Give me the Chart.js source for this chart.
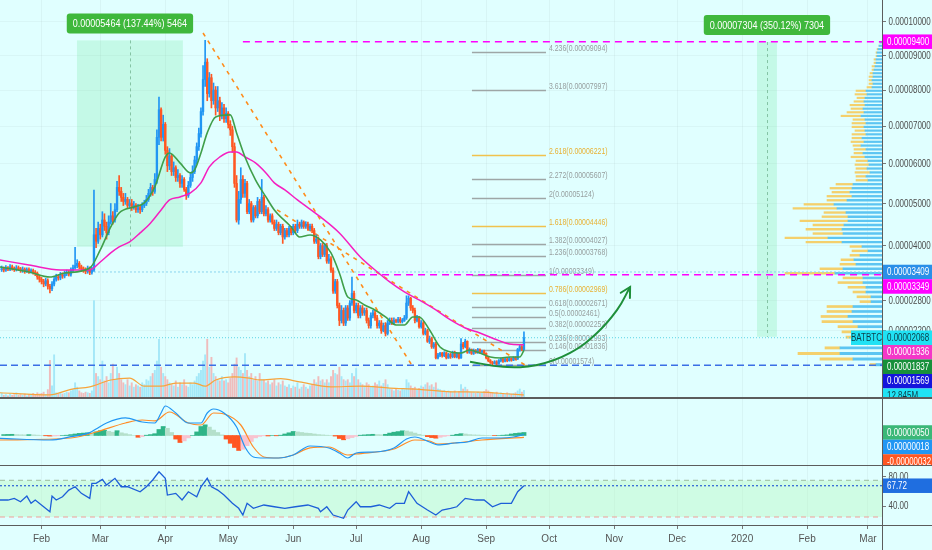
<!DOCTYPE html>
<html><head><meta charset="utf-8">
<script src="https://cdn.jsdelivr.net/npm/chart.js@4.4.1/dist/chart.umd.min.js"></script>
<style>
html,body{margin:0;padding:0;background:#e0ffff;width:932px;height:550px;overflow:hidden;}
#wrap{position:relative;width:932px;height:550px;}
canvas{position:absolute;left:0;}
.sep{position:absolute;background:#5c5c5c;pointer-events:none;}
</style></head><body>
<div id="wrap">
<canvas id="cMain" width="932" height="398" style="top:0px"></canvas>
<canvas id="cMacd" width="932" height="67" style="top:398px"></canvas>
<canvas id="cRsi" width="932" height="85" style="top:465px"></canvas>
<div class="sep" style="left:0;top:397px;width:932px;height:1.5px"></div>
<div class="sep" style="left:0;top:464.5px;width:932px;height:1.5px"></div>
<div class="sep" style="left:0;top:524.5px;width:932px;height:1.2px"></div>
<div class="sep" style="left:881.5px;top:0;width:1.2px;height:550px"></div>
</div>
<script>
// ---------------- DATA (prices in satoshi, days counted from 2019-01-01 = 0) ----------------
const FIRST_DAY = 12;
const FIRST_OPEN = 3460;
const closes = [
3480,3450,3500,3470,3520,3490,3460,3500,3480,3450,
3470,3430,3460,3420,3440,3400,3380,3300,3250,3200,
3150,3220,3100,3050,3150,3250,3300,3280,3350,3320,
3380,3400,3360,3450,3500,3550,3600,3520,3480,3450,
3420,3480,3400,3450,4250,
4100,4400,4250,4600,4450,4300,4550,4700,4600,4850,
5400,5300,5150,5050,5100,4950,5000,4900,4950,4850,
4900,4850,4950,5000,5100,5250,5400,5300,5600,6700,
7450,6700,7050,6350,5950,6200,5800,5900,5650,5700,
5500,5600,5350,5200,5450,5650,5800,6100,6450,6800,
7400,8300,8800,7900,8350,7700,8000,7500,7700,7300,
7500,7200,7350,7050,6900,6450,5500,4600,5100,5600,
5250,5500,4800,5000,4600,4900,4700,5050,4800,5150,
4750,4850,4600,4700,4550,4400,4500,4300,4450,4200,
4350,4250,4400,4300,4450,4350,4500,4450,4550,4450,
4500,4400,4450,4350,4100,4150,3750,4000,3800,4000,
3650,3700,3450,3000,3200,2700,2400,2600,2350,2650,
2450,2750,2950,2600,2700,2500,2650,2550,2600,2400,
2300,2500,2550,2450,2300,2350,2200,2300,2150,2350,
2400,2350,2400,2380,2420,2380,2400,2450,2750,2850,
2650,2600,2400,2450,2280,2350,2150,2200,2000,2050,
1900,1950,1700,1750,1780,1740,1790,1700,1760,1720,
1800,1720,1780,1700,1950,1900,2000,1800,1850,1780,
1830,1800,1850,1800,1820,1780,1700,1650,1620,1600,
1630,1600,1650,1680,1640,1680,1650,1690,1660,1700,
1680,1850,1900,1850,2068];
const highs = [
3540,3520,3550,3530,3570,3560,3520,3550,3540,3510,
3520,3500,3500,3500,3480,3470,3440,3410,3340,3290,
3250,3270,3260,3140,3200,3300,3360,3340,3400,3390,
3430,3450,3440,3500,3560,3960,3680,3640,3560,3520,
3500,3540,3520,3510,5330,
4400,4550,4500,4800,4750,4550,4700,5000,4800,5000,
5550,5700,5400,5250,5250,5150,5100,5100,5050,5000,
4980,4960,5020,5080,5200,5350,5500,5450,5750,6900,
7800,7500,7300,7100,6450,6400,6250,6050,5950,5850,
5750,5700,5650,5400,5550,5750,5950,6200,6550,6950,
7500,8700,9440,8900,8500,8450,8200,8100,8100,7800,
7650,7600,7500,7400,7150,7000,6550,5700,5300,5900,
5700,5600,5550,5100,5050,4950,4950,5150,5100,5600,
5200,4950,4900,4750,4750,4600,4600,4550,4500,4500,
4400,4400,4450,4450,4500,4500,4600,4550,4600,4580,
4560,4550,4500,4500,4400,4250,4200,4050,4050,4050,
4050,3800,3750,3500,3250,3250,2750,2700,2650,2700,
2700,2800,3300,3000,2750,2750,2700,2700,2650,2650,
2450,2550,2600,2600,2500,2400,2400,2350,2350,2400,
2450,2450,2450,2430,2460,2460,2440,2500,2900,2900,
2870,2700,2650,2500,2480,2400,2380,2250,2230,2100,
2080,1980,1980,1780,1800,1800,1810,1800,1780,1780,
1820,1820,1800,1790,2050,1980,2040,2010,1880,1860,
1860,1850,1870,1860,1840,1840,1790,1720,1670,1640,
1650,1650,1670,1700,1700,1700,1700,1710,1700,1720,
1720,1870,1940,1920,2180];
const lows = [
3420,3410,3420,3440,3440,3450,3420,3430,3440,3400,
3400,3380,3400,3380,3390,3360,3330,3250,3190,3150,
3090,3110,3040,2960,3010,3110,3210,3230,3240,3270,
3280,3330,3320,3320,3410,3470,3500,3480,3420,3400,
3370,3380,3350,3360,3420,
3950,4050,4150,4200,4350,4150,4250,4500,4500,4550,
4800,5200,5050,4950,4980,4880,4900,4830,4860,4780,
4780,4760,4800,4900,4950,5050,5180,5200,5250,5500,
6500,6600,6600,6250,5800,5850,5700,5700,5550,5550,
5400,5400,5300,5100,5150,5400,5550,5750,6000,6350,
6700,7300,8100,7700,7800,7500,7600,7300,7400,7150,
7200,7100,7100,6950,6750,6300,5400,4550,4500,5000,
5150,5150,4750,4750,4550,4550,4650,4650,4750,4750,
4700,4700,4550,4550,4500,4350,4350,4250,4250,4050,
4150,4200,4200,4250,4250,4300,4300,4400,4400,4400,
4400,4350,4350,4300,4050,4050,3700,3700,3750,3750,
3600,3600,3400,2950,2950,2650,2300,2350,2300,2300,
2400,2400,2700,2550,2550,2450,2450,2500,2500,2350,
2250,2250,2450,2400,2250,2250,2150,2180,2100,2120,
2320,2320,2330,2350,2350,2350,2350,2380,2420,2700,
2600,2550,2350,2370,2250,2250,2120,2120,1980,1960,
1870,1870,1680,1680,1720,1710,1720,1680,1690,1690,
1700,1700,1700,1680,1690,1860,1880,1780,1780,1760,
1760,1780,1780,1780,1780,1760,1680,1630,1600,1570,
1590,1580,1590,1630,1620,1630,1630,1640,1640,1650,
1660,1670,1820,1830,1840];
// volume, millions
const volumes = [
8,5,6,4,7,5,6,9,5,6,
5,7,4,6,5,8,6,9,7,8,
10,6,14,61,20,70,9,7,9,7,
8,10,9,12,14,25,18,12,9,8,
10,9,8,12,157,
40,35,30,60,28,35,25,40,55,30,
50,40,30,25,22,30,20,25,18,22,
20,18,25,22,30,28,35,40,45,60,
95,50,40,35,30,25,22,20,28,18,
25,22,30,20,18,25,22,28,35,40,
45,60,70,95,50,66,40,35,30,28,
35,28,30,25,32,40,55,65,50,45,
40,72,45,35,40,30,35,28,40,30,
30,25,28,22,25,30,20,25,22,28,
20,18,22,16,20,18,25,15,18,22,
18,15,20,22,30,25,35,28,30,25,
30,25,35,45,40,38,50,35,30,28,
30,25,40,35,48,30,25,22,20,25,
22,18,20,25,22,28,20,24,30,22,
15,14,12,16,13,12,15,14,30,25,
20,16,18,14,16,20,18,22,25,20,
22,18,25,15,14,12,13,10,12,11,
10,12,9,11,22,15,18,14,10,9,
9,8,10,8,9,11,14,12,10,9,
8,10,7,9,8,7,9,8,7,8,
9,12,15,10,12.845];
const volMaDays = [11,35,45,54,64,73,80,88,95,104,109,114,123,130,135,145,154,169,183,197,211,226,240,254,261];
const volMaVals = [8.5,5,14,18,29,32,19,19,24,24,19,29,34,32,29,31,26,18,19,16,14,10,9.6,6.4,4.8];

const emaFastDays = [11,25,35,42,54,59,64,68,75,80,85,90,92,97,102,104,107,110,114,121,124,128,133,138,142,150,154,159,164,169,173,177,181,185,190,195,200,204,208,211,216,221,226,231,235,240,245,250,254,259,261];
const emaFastVals = [3520,3409,3300,3387,3497,3901,4435,4770,4916,5014,5411,6180,6285,6025,5767,5844,6285,6818,7253,7308,6818,6180,5589,5162,4843,4435,4200,4247,4131,3833,3387,2876,2814,2711,2610,2470,2312,2312,2470,2470,2215,1896,1805,1787,1841,1787,1715,1698,1715,1715,1837];
const emaSlowDays = [11,25,40,54,59,64,68,73,78,83,88,92,97,102,107,111,116,121,124,128,133,138,142,147,153,164,173,183,190,197,204,211,219,226,233,240,247,254,261];
const emaSlowVals = [3675,3564,3453,3453,3630,3833,3970,4085,4294,4530,4843,5088,5162,5262,5513,5921,6180,6312,6312,6180,6025,5767,5513,5337,5088,4673,4294,3743,3453,3193,2981,2814,2610,2410,2254,2158,2045,1952,1936];

// volume profile (rows by price)
const profilePrices = [9400,9300,9200,9100,9000,8900,8800,8700,8600,8500,8400,8300,8200,8100,8000,
7900,7800,7700,7600,7500,7400,7300,7200,7100,7000,6900,6800,6700,6600,6500,6400,6300,6200,6100,6000,
5900,5800,5700,5600,5500,5400,5300,5200,5100,5000,4900,4800,4700,4600,4500,4400,4300,4200,4100,4000,
3900,3800,3700,3600,3500,3400,3300,3200,3100,3000,2900,2800,2700,2600,2500,2400,2300,2200,2100,2000,
1900,1800,1700,1600];
const profileUp = [2,3,4,5,5,6,6,7,8,9,9,10,9,10,16,
15,17,18,17,19,18,21,17,16,18,17,16,20,18,21,16,19,17,14,13,
15,12,16,14,29,30,32,30,35,48,45,36,34,34,38,40,39,54,40,20,
14,22,28,26,39,47,19,19,16,16,11,11,29,30,34,29,24,22,16,12,
42,42,29,6];
const profileDown = [0,0,1,1,1,2,2,3,2,3,4,3,4,5,10,
12,8,10,15,12,17,20,12,14,12,10,14,10,13,8,12,9,14,12,14,
11,15,10,12,17,22,18,25,20,30,44,22,26,48,31,36,30,43,36,12,
16,10,13,16,23,50,20,25,18,13,14,11,26,25,27,31,20,18,20,14,
15,42,33,6];

// fibonacci extension
const fibRatios = ['4.236','3.618','2.618','2.272','2','1.618','1.382','1.236','1','0.786','0.618','0.5','0.382','0.236','0.146','0'];
const fibPrices = [9094,7997,6221,5607,5124,4446,4027,3768,3349,2969,2671,2461,2252,1993,1836,1574];
const fibFromDay = 236.2, fibToDay = 271.5;

// horizontal lines
const hLinePrices = [9400, 3349, 3409, 2068, 1569];
const hLineFromDays = [127.0, 181.9, 54.1, 11.2, 11.2];

// trend lines
const trendFromDays = [108, 143.3], trendFromPrices = [9660, 4843];
const trendToDays = [208.1, 263], trendToPrices = [1540, 1540];

// projected curve
const curveDays = [235.3, 251, 267.2, 283, 295.8, 305.4, 311.6];
const curvePrices = [1632, 1545, 1574, 1787, 2158, 2610, 3086];

// date/price range measurements
const rangeFromDays = [47.9, 372.1], rangeToDays = [98.4, 381.6];
const rangeLowPrices = [3975, 2086], rangeHighPrices = [9439, 9390];
const rangeLabels = ['0.00005464 (137.44%) 5464', '0.00007304 (350.12%) 7304'];

// axis label values
const priceTicks = [10000, 9000, 8000, 7000, 6000, 5000, 4000, 2800, 2200];
const markPrices = [9400, 3409, 3349, 2068, 1936, 1837, 1569];
const lastVolume = 12.845;

// MACD (sats)
const macdDays = [11,35,45,54,57,62,71,79,85,88,90,95,101,107,110,113,118,124,128,132,137,144,151,159,168,173,177,181,190,199,205,209,216,220,228,234,241,250,256,261];
const macdVals = [-47,-75,-20,47,108,208,292,225,208,375,492,375,208,208,375,442,375,142,-192,-358,-375,-375,-325,-175,-208,-292,-375,-292,-275,-208,-58,-25,-108,-158,-125,-108,-42,-42,-25,18];
const sigDays = [11,45,57,71,79,85,92,101,107,113,118,126,132,137,144,151,159,168,177,181,199,209,216,220,228,241,261];
const sigVals = [-75,-42,58,208,258,242,392,208,175,375,358,175,-192,-358,-375,-325,-208,-192,-325,-308,-225,-75,-92,-142,-125,-75,-32];
const HIST_START = 13, HIST_STEP = 2;
const histVals = [
15,18,20,15,12,10,14,10,6,0,
-5,-10,-8,-5,0,5,15,25,35,40,
45,40,60,80,85,70,55,80,45,30,
15,0,-30,-20,5,15,30,100,150,120,
50,-60,-117,-90,-40,0,60,150,178,140,
90,50,10,-60,-130,-200,-250,-230,-170,-100,
-40,-15,-5,-8,0,-5,5,25,45,67,
60,50,40,35,25,15,10,5,0,-10,
-50,-72,-55,-35,-15,5,10,15,20,15,
12,20,40,55,65,78,75,60,40,20,
5,-20,-35,-45,-30,-15,-5,5,20,30,
25,15,10,8,5,2,0,-2,0,5,
10,25,35,42,50];

// RSI
const rsiDays = [11,15,18,21,24,26,28,32,35,36,38,41,44,47,50,54,55,57,60,62,66,69,72,78,81,84,87,90,91,95,98,101,105,107,110,112,115,118,122,125,127,129,132,137,142,147,152,158,163,164,167,170,175,177,181,183,188,192,197,200,204,206,210,215,219,222,226,229,233,238,242,246,250,255,258,261];
const rsiVals = [48.2,48.2,50.5,45.9,53.6,43.7,48.2,39,32.2,53.6,48.2,52.7,61.8,66.3,57.3,50.5,71,71,76.4,68.6,77.8,66.3,66.3,59.5,66.3,75.5,86.8,77.8,55,57.3,48.2,59.5,52.7,66.3,77.8,66.3,61.8,55,43.7,36.9,27.7,43.7,36.9,41.4,39,36.9,39,41.4,36.9,32.2,39,27.7,23.2,34.5,45.9,39,39,41.4,36.9,43.7,43.7,59.5,43.7,34.5,27.7,34.5,36.9,39,50.5,48.2,48.2,39,43.7,43.7,59.5,67.72];
const RSI_UPPER = 75, RSI_LOWER = 25;
const rsiTicks = [80, 40];

// time axis
const monthDays = [31,59,90,120,151,181,212,243,273,304,334,365,396,425];
const monthLabels = ['Feb','Mar','Apr','May','Jun','Jul','Aug','Sep','Oct','Nov','Dec','2020','Feb','Mar'];

// ---------------- CHART SETUP ----------------
const F = "'Liberation Sans', Arial, sans-serif";
Chart.defaults.font.family = F;
Chart.defaults.font.size = 10;
Chart.defaults.color = '#4d4d4d';
Chart.defaults.animation = false;

const POW = 0.7;
class PowScale extends Chart.LinearScale {
  static id = 'pow';
  static defaults = {};
  _p(v) { return Math.pow(Math.max(v, 1e-12), POW); }
  getPixelForValue(value) {
    if (value === null || value === undefined || isNaN(value)) return NaN;
    const a = this._p(this.min), b = this._p(this.max);
    return this.getPixelForDecimal((this._p(value) - a) / (b - a));
  }
  getValueForPixel(pixel) {
    const a = this._p(this.min), b = this._p(this.max);
    return Math.pow(a + this.getDecimalForPixel(pixel) * (b - a), 1 / POW);
  }
}
Chart.register(PowScale);

const X_MIN = 11.2, X_MAX = 431.7;
const Y_MIN = 1035, Y_MAX = 10660;
const opens = closes.map((c, i) => i === 0 ? FIRST_OPEN : closes[i - 1]);
const isUp = i => closes[i] >= opens[i];
const UP = '#2196f3', DN = '#ff5722';

function noPad(s) { s.paddingTop = 0; s.paddingBottom = 0; s.paddingLeft = 0; s.paddingRight = 0; }
function xAxis(show) {
  return {
    type: 'linear', min: X_MIN, max: X_MAX, offset: false, bounds: 'data', display: true,
    afterBuildTicks: s => { s.ticks = monthDays.map(v => ({ value: v })); },
    afterFit: s => { s.height = show ? 25 : 0; noPad(s); },
    grid: { color: 'rgba(0,0,0,0.04)', offset: false, drawTicks: show, tickLength: 4, tickColor: '#777' },
    border: { display: false },
    ticks: { display: show, autoSkip: false, maxRotation: 0, padding: 4, color: '#555', font: { size: 10 },
      callback: (v, i) => monthLabels[i] }
  };
}
function yAxisRight(extra) {
  return Object.assign({ position: 'right', offset: false, bounds: 'data', beginAtZero: false,
    afterFit: s => { s.width = 50; noPad(s); },
    ticks: { display: false },
    grid: { color: 'rgba(0,0,0,0.035)', offset: false, tickLength: 4, tickColor: '#777' },
    border: { display: false } }, extra);
}
const fmt8 = v => (v / 1e8).toFixed(8);

function narrowText(ctx, text, x, y, sx, align) {
  ctx.save(); ctx.translate(x, y); ctx.scale(sx, 1); ctx.textAlign = align || 'left';
  ctx.fillText(text, 0, 0); ctx.restore();
}
function drawTickLabels(chart, scale, fmt) {
  const ctx = chart.ctx, a = chart.chartArea;
  ctx.save(); ctx.font = '10px ' + F; ctx.fillStyle = '#4d4d4d'; ctx.textBaseline = 'middle';
  scale.ticks.forEach(t => narrowText(ctx, fmt(t.value), a.right + 6.5, scale.getPixelForValue(t.value) + 0.5, 0.8));
  ctx.restore();
}
function drawTags(chart, items) {
  const ctx = chart.ctx, a = chart.chartArea, H = 14.5;
  items.forEach(it => it.py = it.scale.getPixelForValue(it.v));
  items.sort((p, q) => p.py - q.py);
  let last = -1e9;
  ctx.save();
  ctx.font = '10px ' + F; ctx.textBaseline = 'middle';
  for (const it of items) {
    const y = Math.max(it.py, last + H); last = y;
    ctx.fillStyle = it.bg; ctx.fillRect(a.right + 0.5, y - H / 2, 49.5, H);
    ctx.fillStyle = it.fg || '#fff';
    const sx = Math.min(0.8, 44 / ctx.measureText(it.text).width);
    narrowText(ctx, it.text, a.right + 5, y + 0.5, sx);
    if (it.tag) {
      ctx.fillStyle = it.bg; ctx.fillRect(a.right - 31, y - H / 2, 31, H);
      ctx.fillStyle = it.fg;
      narrowText(ctx, it.tag, a.right - 15.5, y + 0.5, 0.8, 'center');
    }
  }
  ctx.restore();
}

const fibPlugin = { id: 'fib', beforeDatasetsDraw(chart) {
  const { ctx, chartArea: a } = chart; const x = chart.scales.x, y = chart.scales.y;
  ctx.save(); ctx.beginPath(); ctx.rect(a.left, a.top, a.right - a.left, a.bottom - a.top); ctx.clip();
  // range boxes
  rangeFromDays.forEach((d0, i) => {
    const xa = x.getPixelForValue(d0), xb = x.getPixelForValue(rangeToDays[i]);
    const ya = y.getPixelForValue(rangeHighPrices[i]), yb = y.getPixelForValue(rangeLowPrices[i]);
    ctx.fillStyle = 'rgba(60,220,110,0.17)'; ctx.fillRect(xa, ya, xb - xa, yb - ya);
    const xm = (xa + xb) / 2;
    ctx.setLineDash([3, 3]); ctx.strokeStyle = 'rgba(90,160,120,0.6)'; ctx.lineWidth = 1;
    ctx.beginPath(); ctx.moveTo(Math.round(xm) + 0.5, ya); ctx.lineTo(Math.round(xm) + 0.5, yb); ctx.stroke();
    ctx.setLineDash([]);
    ctx.font = '11px ' + F;
    const tw = ctx.measureText(rangeLabels[i]).width * 0.82, w = tw + 12, h = 20, cy = ya - 17;
    ctx.fillStyle = '#3fb83c';
    ctx.beginPath(); ctx.roundRect(xm - w / 2, cy - h / 2, w, h, 3); ctx.fill();
    ctx.fillStyle = '#ffffff'; ctx.textBaseline = 'middle';
    narrowText(ctx, rangeLabels[i], xm, cy + 0.5, 0.82, 'center');
  });
  // fib levels
  const x0 = x.getPixelForValue(fibFromDay), x1 = x.getPixelForValue(fibToDay);
  ctx.font = '9px ' + F; ctx.textBaseline = 'middle';
  fibRatios.forEach((r, i) => {
    const py = Math.round(y.getPixelForValue(fibPrices[i])) + 0.5;
    const gold = (r === '2.618' || r === '1.618' || r === '0.786');
    ctx.strokeStyle = gold ? '#f0c24e' : '#9ea6a6'; ctx.lineWidth = 1.5;
    ctx.beginPath(); ctx.moveTo(x0, py); ctx.lineTo(x1, py); ctx.stroke();
    ctx.fillStyle = gold ? '#e8b235' : '#979f9f';
    narrowText(ctx, r + '(' + fmt8(fibPrices[i]) + ')', x1 + 3, py - 4, 0.77);
  });
  ctx.restore();
}};

const arrowPlugin = { id: 'arrowHead', afterDatasetsDraw(chart) {
  const idx = chart.data.datasets.findIndex(d => d.arrow);
  if (idx < 0) return;
  const pts = chart.getDatasetMeta(idx).data; const p1 = pts[pts.length - 1];
  let dx, dy;
  if (p1.cp1x !== undefined && (p1.cp1x !== p1.x || p1.cp1y !== p1.y)) { dx = p1.x - p1.cp1x; dy = p1.y - p1.cp1y; }
  else { const p0 = pts[pts.length - 2]; dx = p1.x - p0.x; dy = p1.y - p0.y; }
  const ang = Math.atan2(dy, dx), L = 11, ctx = chart.ctx;
  ctx.save(); ctx.strokeStyle = '#1e8f3a'; ctx.lineWidth = 2; ctx.lineCap = 'round';
  ctx.beginPath();
  ctx.moveTo(p1.x - L * Math.cos(ang - 0.5), p1.y - L * Math.sin(ang - 0.5)); ctx.lineTo(p1.x, p1.y);
  ctx.lineTo(p1.x - L * Math.cos(ang + 0.5), p1.y - L * Math.sin(ang + 0.5));
  ctx.stroke(); ctx.restore();
}};

const mainTags = { id: 'mainTags', afterDraw(chart) {
  const y = chart.scales.y, yv = chart.scales.yv;
  drawTickLabels(chart, y, fmt8);
  const styles = [
    { bg: '#ff00ff' }, { bg: '#2a8fe8' }, { bg: '#ff00ff' },
    { bg: '#20e2f4', fg: '#0c3b47', tag: 'BATBTC' }, { bg: '#f436c8' }, { bg: '#17903a' }, { bg: '#1515dc' }];
  const items = markPrices.map((v, i) => Object.assign({ v, scale: y, text: fmt8(v) }, styles[i]));
  items.push({ v: lastVolume, scale: yv, text: lastVolume.toFixed(3) + 'M', bg: '#20e2f4', fg: '#0c3b47' });
  drawTags(chart, items);
}};

const hlineStyles = [
  { c: '#ff00ff', d: [7, 5], w: 1.5 }, { c: '#ff00ff', d: [7, 5], w: 1.5 },
  { c: '#86d3ee', d: [2, 2], w: 1 }, { c: '#5dd4e6', d: [1, 2], w: 1 }, { c: '#3b6fe6', d: [7, 4], w: 1.6 }];

const mainDatasets = [
  { type: 'bar', data: volumes.map((v, i) => ({ x: FIRST_DAY + i, y: v })), xAxisID: 'x', yAxisID: 'yv',
    backgroundColor: c => isUp(c.dataIndex) ? '#a4e8f8' : '#efbcbc', barPercentage: 0.92, categoryPercentage: 1, grouped: false, order: 20 },
  { type: 'line', data: volMaDays.map((d, i) => ({ x: d, y: volMaVals[i] })), xAxisID: 'x', yAxisID: 'yv',
    borderColor: '#f6a53c', borderWidth: 1.2, pointRadius: 0, cubicInterpolationMode: 'monotone', order: 19 },
  { type: 'bar', indexAxis: 'y', data: profilePrices.map((p, i) => ({ x: profileUp[i], y: p })), xAxisID: 'xp', yAxisID: 'y',
    backgroundColor: '#5cc5f2', barThickness: 'flex', categoryPercentage: 0.82, barPercentage: 1, stack: 'vp', order: 17 },
  { type: 'bar', indexAxis: 'y', data: profilePrices.map((p, i) => ({ x: profileDown[i], y: p })), xAxisID: 'xp', yAxisID: 'y',
    backgroundColor: '#f4d06c', barThickness: 'flex', categoryPercentage: 0.82, barPercentage: 1, stack: 'vp', order: 18 },
];
hLinePrices.forEach((p, i) => mainDatasets.push({ type: 'line', data: [{ x: hLineFromDays[i], y: p }, { x: X_MAX + 5, y: p }],
  xAxisID: 'x', yAxisID: 'y', borderColor: hlineStyles[i].c, borderDash: hlineStyles[i].d, borderWidth: hlineStyles[i].w, pointRadius: 0, order: 15 }));
trendFromDays.forEach((d, i) => mainDatasets.push({ type: 'line', data: [{ x: d, y: trendFromPrices[i] }, { x: trendToDays[i], y: trendToPrices[i] }],
  xAxisID: 'x', yAxisID: 'y', borderColor: '#ff8c1a', borderDash: [4, 5], borderWidth: 1.6, pointRadius: 0, order: 14 }));
mainDatasets.push(
  { type: 'bar', data: closes.map((c, i) => ({ x: FIRST_DAY + i, y: [lows[i], highs[i]] })), xAxisID: 'x', yAxisID: 'y',
    backgroundColor: c => isUp(c.dataIndex) ? UP : DN, barThickness: 1, grouped: false, order: 12 },
  { type: 'bar', data: closes.map((c, i) => ({ x: FIRST_DAY + i, y: [opens[i], c] })), xAxisID: 'x', yAxisID: 'y',
    backgroundColor: c => isUp(c.dataIndex) ? UP : DN, barThickness: 1.7, minBarLength: 1, grouped: false, order: 11 },
  { type: 'line', data: emaSlowDays.map((d, i) => ({ x: d, y: emaSlowVals[i] })), xAxisID: 'x', yAxisID: 'y',
    borderColor: '#f51fc0', borderWidth: 1.5, pointRadius: 0, cubicInterpolationMode: 'monotone', order: 8 },
  { type: 'line', data: emaFastDays.map((d, i) => ({ x: d, y: emaFastVals[i] })), xAxisID: 'x', yAxisID: 'y',
    borderColor: '#3f9f4a', borderWidth: 1.6, pointRadius: 0, cubicInterpolationMode: 'monotone', order: 7 },
  { type: 'line', arrow: true, data: curveDays.map((d, i) => ({ x: d, y: curvePrices[i] })), xAxisID: 'x', yAxisID: 'y',
    borderColor: '#1e8f3a', borderWidth: 2, pointRadius: 0, tension: 0.4, order: 5 }
);

const baseOpts = { responsive: false, devicePixelRatio: 1, animation: false, events: [], layout: { padding: 0 },
  plugins: { legend: { display: false }, tooltip: { enabled: false } } };

new Chart(document.getElementById('cMain'), {
  type: 'line',
  data: { datasets: mainDatasets },
  options: Object.assign({}, baseOpts, {
    scales: {
      x: xAxis(false),
      y: yAxisRight({ type: 'pow', min: Y_MIN, max: Y_MAX,
        afterBuildTicks: s => { s.ticks = priceTicks.map(v => ({ value: v })); } }),
      yv: { type: 'linear', axis: 'y', position: 'left', min: 0, max: 640, display: false },
      xp: { type: 'linear', axis: 'x', position: 'bottom', min: 0, max: 882, reverse: true, display: false, stacked: true }
    }
  }),
  plugins: [fibPlugin, arrowPlugin, mainTags]
});

// ---------------- MACD ----------------
function histColor(i) {
  const v = histVals[i], p = i > 0 ? histVals[i - 1] : 0;
  if (v >= 0) return v >= p ? '#2fb487' : '#b4e0cb';
  return v <= p ? '#ff5722' : '#f8c3cf';
}
const macdTags = { id: 'macdTags', afterDraw(chart) {
  const y = chart.scales.y;
  const hl = histVals[histVals.length - 1], ml = macdVals[macdVals.length - 1], sl = sigVals[sigVals.length - 1];
  drawTags(chart, [
    { v: hl, scale: y, text: fmt8(hl), bg: '#3bb878' },
    { v: ml, scale: y, text: fmt8(ml), bg: '#2196f3' },
    { v: sl, scale: y, text: fmt8(sl), bg: '#ff5722' }]);
}};
new Chart(document.getElementById('cMacd'), {
  type: 'line',
  data: { datasets: [
    { type: 'bar', data: histVals.map((v, i) => ({ x: HIST_START + i * HIST_STEP, y: v })),
      backgroundColor: c => histColor(c.dataIndex), barPercentage: 1, categoryPercentage: 1, grouped: false, order: 3 },
    { data: sigDays.map((d, i) => ({ x: d, y: sigVals[i] })), borderColor: '#ff8c26', borderWidth: 1.2, pointRadius: 0, cubicInterpolationMode: 'monotone', order: 2 },
    { data: macdDays.map((d, i) => ({ x: d, y: macdVals[i] })), borderColor: '#2196f3', borderWidth: 1.2, pointRadius: 0, cubicInterpolationMode: 'monotone', order: 1 }
  ]},
  options: Object.assign({}, baseOpts, {
    scales: {
      x: xAxis(false),
      y: yAxisRight({ type: 'linear', min: -492, max: 625, grid: { display: false } })
    }
  }),
  plugins: [macdTags]
});

// ---------------- RSI ----------------
const rsiLast = rsiVals[rsiVals.length - 1];
const rsiTags = { id: 'rsiTags', afterDraw(chart) {
  drawTickLabels(chart, chart.scales.y, v => v.toFixed(2));
  drawTags(chart, [{ v: rsiLast, scale: chart.scales.y, text: rsiLast.toFixed(2), bg: '#1f6ee0' }]);
}};
new Chart(document.getElementById('cRsi'), {
  type: 'line',
  data: { datasets: [
    { data: [{ x: X_MIN, y: RSI_UPPER }, { x: X_MAX, y: RSI_UPPER }], borderColor: '#a9c2b0', borderDash: [5, 4], borderWidth: 1.2, pointRadius: 0, fill: false, order: 10 },
    { data: [{ x: X_MIN, y: RSI_LOWER }, { x: X_MAX, y: RSI_LOWER }], borderColor: '#f2a09a', borderDash: [5, 4], borderWidth: 1.2, pointRadius: 0,
      fill: '-1', backgroundColor: 'rgba(170,245,170,0.32)', order: 9 },
    { data: [{ x: X_MIN, y: rsiLast }, { x: X_MAX, y: rsiLast }], borderColor: '#2a5fd6', borderDash: [2, 2], borderWidth: 1.2, pointRadius: 0, order: 5 },
    { data: rsiDays.map((d, i) => ({ x: d, y: rsiVals[i] })), borderColor: '#1d5fd8', borderWidth: 1.3, pointRadius: 0, tension: 0, order: 1 }
  ]},
  options: Object.assign({}, baseOpts, {
    scales: {
      x: xAxis(true),
      y: yAxisRight({ type: 'linear', min: 14.1, max: 96,
        afterBuildTicks: s => { s.ticks = rsiTicks.map(v => ({ value: v })); },
        grid: { color: 'rgba(0,0,0,0)', tickLength: 4, tickColor: '#777' } })
    }
  }),
  plugins: [rsiTags]
});
</script>
</body></html>
